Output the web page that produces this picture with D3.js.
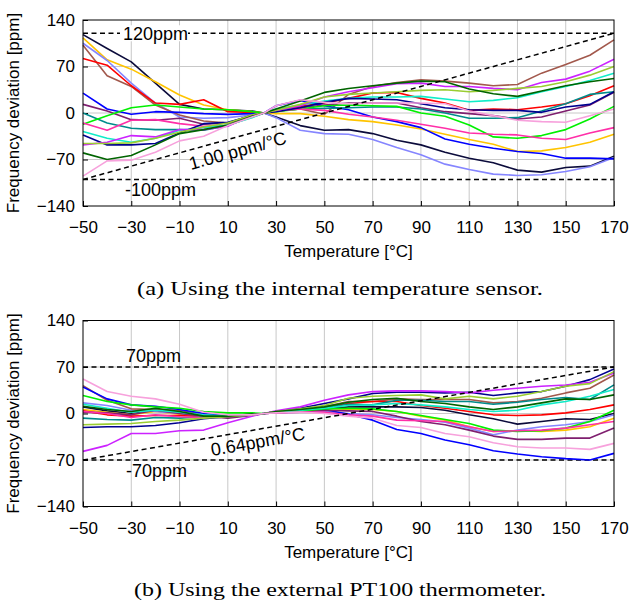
<!DOCTYPE html>
<html>
<head>
<meta charset="utf-8">
<script src="https://cdn.jsdelivr.net/npm/d3@7"></script>
<style>
  body { margin: 0; background: #fff; }
  svg { display: block; }
  .tick text, .lbl { font-family: "Liberation Sans", Arial, sans-serif; }
  .cap { font-family: "Liberation Serif", "Times New Roman", serif; }
</style>
</head>
<body>
<div id="chart"></div>
<script>
// measurement temperatures (degC)
const temps = [-50, -40, -30, -20, -10, 0, 10, 20, 25, 30, 40, 50, 60, 70, 80, 90, 100, 110, 120, 130, 140, 150, 160, 170];
const xTicks = [-50, -30, -10, 10, 30, 50, 70, 90, 110, 130, 150, 170];
const yTicks = [-140, -70, 0, 70, 140];

const colors = ["#0b0b3b", "#ffc400", "#8585ff", "#a2584c", "#ff0000", "#0000ff", "#7f1f6f", "#008b8b",
  "#00f000", "#ff2fa8", "#10ecc8", "#00008f", "#cc22ff", "#9acd32", "#006400", "#f7a1dc"];

// (a) internal temperature sensor, ppm
const intBlack = [118, 97, 77, 45, 13, 6, 5, 3, 0, -6, -19, -26, -25, -31, -41, -48, -59, -68, -75, -86, -89, -82, -80, -65];
const intGold = [113, 80, 66, 47, 27, 12, 5, 2, 0, -1, -1, -5, -10, -13, -18, -24, -32, -40, -47, -58, -57, -52, -44, -32];
const intPeri = [105, 79, 45, 15, -6, -8, -7, -3, 0, -7, -26, -31, -32, -40, -52, -63, -77, -85, -92, -94, -93, -88, -81, -67];
const intBrown = [102, 56, 40, 12, -3, -12, -15, -6, 0, 3, 6, -2, 28, 40, 46, 50, 48, 45, 41, 43, 60, 73, 87, 110];
const intRed = [82, 72, 41, 15, 13, 20, 2, 1, 0, 3, 10, 15, 22, 30, 31, 22, 15, 4, 6, 5, 9, 14, 26, 41];
const intBlue = [30, 6, -2, 2, 1, -1, -2, -1, 0, 11, 19, 11, 5, -6, -13, -22, -39, -47, -53, -58, -61, -68, -68, -69];
const intPurple = [13, 3, -10, -11, -8, -17, -15, -3, 0, 3, 8, 12, 15, 15, 15, 8, 2, -1, -4, -9, -6, 3, 12, 31];
const intTeal = [0, -15, -23, -25, -25, -26, -19, -6, 0, 3, 6, 7, 8, 9, 9, 6, 0, -8, -8, -7, 3, 14, 28, 32];
const intGreen = [-17, -4, 8, 12, 9, 6, 5, 2, 0, 2, 6, 11, 12, 11, 10, 0, -5, -18, -36, -38, -34, -25, -9, 10];
const intHotPink = [-15, -26, -11, -10, -16, -20, -19, -4, 0, 3, 6, 4, -2, -6, -11, -17, -23, -30, -32, -33, -38, -40, -30, -22];
const intCyan = [-28, -38, -44, -38, -26, -22, -18, -7, 0, 6, 12, 18, 22, 24, 24, 25, 21, 17, 19, 23, 32, 40, 49, 60];
const intNavy = [-33, -48, -48, -46, -30, -16, -14, -4, 0, 2, 8, 16, 22, 21, 20, 14, 8, 5, 4, 4, 1, 9, 13, 32];
const intViolet = [-48, -44, -34, -36, -25, -25, -20, -3, 0, 4, 11, 24, 32, 38, 44, 45, 40, 40, 37, 35, 46, 51, 63, 81];
const intYGreen = [-46, -46, -45, -38, -29, -21, -15, -3, 0, 4, 13, 24, 28, 30, 32, 34, 35, 32, 34, 37, 40, 47, 57, 70];
const intDkGreen = [-60, -70, -64, -48, -31, -25, -18, -5, 0, 6, 18, 31, 37, 41, 45, 48, 47, 36, 29, 25, 33, 41, 47, 52];
const intLtPink = [-95, -72, -71, -59, -42, -35, -19, -6, 0, 11, 20, 16, 14, 15, 15, 15, 14, 3, -4, -11, -13, -14, -4, 6];

// (b) external PT100 thermometer, ppm
const extBlack = [10, 4, 0, 4, 2, -3, -6, -2, 0, 2, 4, 7, 10, 10, 10, 9, 5, -2, -8, -16, -12, -8, -9, 0];
const extGold = [6, 2, -2, 3, -1, -4, -5, -2, 0, 1, 3, 4, 6, 6, 3, -4, -10, -20, -27, -26, -27, -25, -20, -7];
const extPeri = [16, 12, 5, 3, 0, -3, -5, -2, 0, 1, 2, 3, 0, -2, -6, -9, -13, -22, -32, -25, -20, -17, -12, -2];
const extBrown = [42, 20, 7, 6, 5, -2, -5, -2, 0, 3, 6, 10, 18, 18, 22, 21, 21, 21, 16, 18, 23, 31, 38, 58];
const extRed = [4, -2, -4, -3, -3, -5, -4, -1, 0, 2, 5, 9, 15, 18, 18, 12, 8, 3, -2, -3, -2, 1, 6, 13];
const extBlue = [40, 22, 13, 11, 6, 0, -4, -2, 0, 1, 3, 6, -1, -10, -24, -30, -40, -47, -56, -61, -65, -68, -70, -60];
const extPurple = [2, 1, -2, 5, 0, -4, -7, -3, 0, 1, 3, 5, 4, 3, -4, -12, -17, -25, -34, -39, -39, -37, -37, -22];
const extTeal = [-7, -9, -10, -6, -7, -5, -4, -1, 0, 2, 5, 9, 14, 13, 20, 20, 18, 18, 14, 17, 21, 24, 21, 43];
const extGreen = [27, 18, 13, 10, 8, 3, 1, 1, 0, 2, 4, 7, 8, 7, 3, -3, -9, -15, -25, -27, -26, -22, -12, 5];
const extHotPink = [3, 0, -6, -2, -5, -6, -5, -2, 0, 1, 2, 2, -2, -4, -10, -11, -12, -20, -27, -26, -25, -22, -17, -12];
const extCyan = [14, 8, 2, 5, 2, -2, -4, -2, 0, 2, 5, 8, 12, 13, 15, 13, 10, 6, 3, 5, 13, 18, 26, 36];
const extNavy = [-21, -20, -20, -18, -14, -8, -5, -2, 0, 3, 8, 15, 22, 30, 32, 32, 31, 32, 27, 31, 33, 41, 51, 67];
const extViolet = [-57, -48, -30, -30, -26, -25, -14, -4, 0, 4, 10, 20, 28, 33, 34, 34, 33, 31, 35, 38, 41, 43, 47, 61];
const extYGreen = [-17, -16, -15, -12, -10, -7, -5, -2, 0, 3, 7, 12, 23, 26, 27, 28, 22, 26, 22, 26, 33, 41, 45, 63];
const extDkGreen = [11, 6, 3, 8, 3, -4, -4, -1, 0, 3, 6, 10, 17, 21, 23, 18, 15, 10, 6, 10, 16, 22, 21, 28];
const extLtPink = [52, 33, 26, 22, 14, 2, -2, -2, 0, 1, 2, 0, -4, -7, -18, -21, -30, -35, -44, -50, -52, -52, -54, -45];

const internal = [intBlack, intGold, intPeri, intBrown, intRed, intBlue, intPurple, intTeal,
  intGreen, intHotPink, intCyan, intNavy, intViolet, intYGreen, intDkGreen, intLtPink];
const external = [extBlack, extGold, extPeri, extBrown, extRed, extBlue, extPurple, extTeal,
  extGreen, extHotPink, extCyan, extNavy, extViolet, extYGreen, extDkGreen, extLtPink];

// bounds and slope lines: [low, high] ppm
const intBounds = [-100, 120];
const extBounds = [-70, 70];

const W = 630, H = 602;
const svg = d3.select("#chart").append("svg").attr("width", W).attr("height", H);

const x = d3.scaleLinear().domain([-50, 170]).range([83, 614]);

function drawPanel(top, series, bounds, opts) {
  const bottom = top + 186;
  const y = d3.scaleLinear().domain([-140, 140]).range([bottom, top]);
  const g = svg.append("g");

  // grid
  g.append("g").selectAll("line").data(xTicks.slice(1, -1)).join("line")
    .attr("x1", d => x(d)).attr("x2", d => x(d)).attr("y1", top).attr("y2", bottom)
    .attr("stroke", "#c8c8c8").attr("stroke-width", 1);
  g.append("g").selectAll("line").data(yTicks.slice(1, -1)).join("line")
    .attr("x1", x(-50)).attr("x2", x(170)).attr("y1", d => y(d)).attr("y2", d => y(d))
    .attr("stroke", "#c8c8c8").attr("stroke-width", 1);

  // axes (inward ticks)
  const xAxis = g.append("g").attr("transform", `translate(0,${bottom})`)
    .call(d3.axisBottom(x).tickValues(xTicks).tickSizeInner(-5).tickSizeOuter(0).tickPadding(15)
      .tickFormat(d => String(d).replace("-", "\u2212")));
  const yAxis = g.append("g").attr("transform", `translate(${x(-50)},0)`)
    .call(d3.axisLeft(y).tickValues(yTicks).tickSizeInner(-5).tickSizeOuter(0).tickPadding(8)
      .tickFormat(d => String(d).replace("-", "\u2212")));
  [xAxis, yAxis].forEach(a => {
    a.select(".domain").remove();
    a.selectAll(".tick line").attr("stroke", "#000");
    a.selectAll(".tick text").attr("font-size", 17).attr("fill", "#000");
  });

  // reference lines
  const dash = "5,3.5";
  bounds.forEach(b => {
    g.append("line").attr("x1", x(-50)).attr("x2", x(170)).attr("y1", y(b)).attr("y2", y(b))
      .attr("stroke", "#000").attr("stroke-width", 1.5).attr("stroke-dasharray", dash);
  });

  // data lines
  const line = d3.line().x((d, i) => x(temps[i])).y(d => y(d));
  g.append("g").selectAll("path").data(series).join("path")
    .attr("d", line).attr("fill", "none")
    .attr("stroke", (d, i) => colors[i]).attr("stroke-width", 1.6).attr("stroke-linejoin", "round");

  g.append("line").attr("x1", x(-50)).attr("x2", x(170)).attr("y1", y(bounds[0])).attr("y2", y(bounds[1]))
    .attr("stroke", "#000").attr("stroke-width", 1.5).attr("stroke-dasharray", dash);

  // labels
  if (opts.topBox) {
    g.append("rect").attr("x", opts.topX - 3).attr("y", y(bounds[1]) - 8)
      .attr("width", 68).attr("height", 16).attr("fill", "#fff");
  }
  g.append("text").attr("class", "lbl").attr("x", opts.topX).attr("y", y(bounds[1]) + opts.topDy)
    .attr("font-size", 18).text(bounds[1] + "ppm");
  g.append("text").attr("class", "lbl").attr("x", opts.botX).attr("y", y(bounds[0]) + 16.5)
    .attr("font-size", 18).text(bounds[0] + "ppm");

  const ang = Math.atan2(y(bounds[1]) - y(bounds[0]), x(170) - x(-50)) * 180 / Math.PI;
  g.append("text").attr("class", "lbl").attr("font-size", 18)
    .attr("transform", `translate(${opts.slopeX},${opts.slopeY}) rotate(${ang})`)
    .text(opts.slopeText);

  // frame
  g.append("rect").attr("x", x(-50)).attr("y", top).attr("width", x(170) - x(-50)).attr("height", bottom - top)
    .attr("fill", "none").attr("stroke", "#000").attr("stroke-width", 1);

  // axis titles
  g.append("text").attr("class", "lbl").attr("font-size", 17).attr("text-anchor", "middle")
    .attr("x", (x(-50) + x(170)) / 2).attr("y", bottom + 51).text("Temperature [\u00B0C]");
  g.append("text").attr("class", "lbl").attr("font-size", 17).attr("text-anchor", "middle")
    .attr("transform", `translate(18.5,${(top + bottom) / 2}) rotate(-90)`).text("Frequency deviation [ppm]");

  g.append("text").attr("class", "cap").attr("font-size", 19).attr("text-anchor", "middle")
    .attr("x", 340).attr("y", bottom + 89)
    .attr("textLength", opts.capLen).attr("lengthAdjust", "spacingAndGlyphs")
    .text(opts.caption);
}

drawPanel(20, internal, intBounds, {
  topBox: true, topX: 123, topDy: 6.5, botX: 125,
  slopeX: 191, slopeY: 170, slopeText: "1.00 ppm/\u00B0C",
  caption: "(a) Using the internal temperature sensor.", capLen: 406
});
drawPanel(320.5, external, extBounds, {
  topBox: false, topX: 126, topDy: -5, botX: 126,
  slopeX: 212, slopeY: 456, slopeText: "0.64ppm/\u00B0C",
  caption: "(b) Using the external PT100 thermometer.", capLen: 412
});
</script>
</body>
</html>
